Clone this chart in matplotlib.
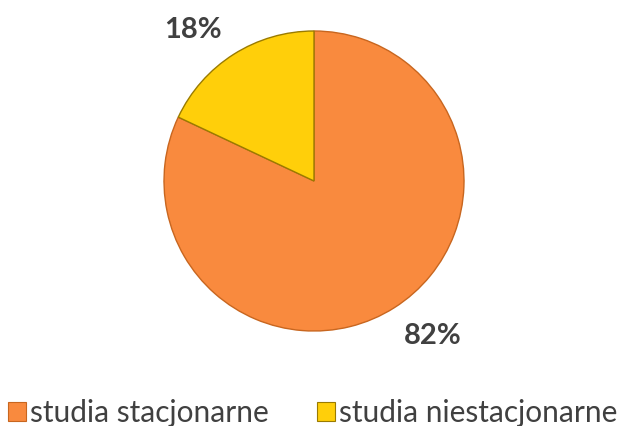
import matplotlib
matplotlib.use("Agg")
import matplotlib.pyplot as plt
from matplotlib.patches import Patch

# dane
kategorie = ['studia stacjonarne', 'studia niestacjonarne']
udzialy = [82, 18]
etykiety = ['82%', '18%']
kolory = ['#F98A3E', '#FFCF0A']
krawedzie = ['#C8661F', '#9A7B00']

plt.rcParams['font.family'] = ['Lato', 'DejaVu Sans']

fig = plt.figure(figsize=(6.32, 4.26), dpi=100)
ax = fig.add_axes([164 / 632, 95 / 426, 300 / 632, 300 / 426])

wedges, _ = ax.pie(udzialy, colors=kolory, startangle=90, counterclock=False,
                   radius=1.0, wedgeprops=dict(linewidth=1.0))
for w, ec in zip(wedges, krawedzie):
    w.set_edgecolor(ec)

# etykiety procentowe poza kołem
pozycje = [(0.79, -1.03), (-0.81, 1.01)]
for txt, (x, y) in zip(etykiety, pozycje):
    ax.text(x, y, txt, ha='center', va='center', fontsize=21,
            fontweight='bold', color='#404040')

ax.set_xlim(-1, 1)
ax.set_ylim(-1, 1)
ax.set_aspect('equal')
ax.axis('off')

uchwyty = [Patch(facecolor=c, edgecolor=e, linewidth=0.8) for c, e in zip(kolory, krawedzie)]
fig.legend(uchwyty, kategorie, loc='lower center', bbox_to_anchor=(0.495, -0.065), ncol=2,
           frameon=False, fontsize=21.5, handlelength=0.6, handleheight=0.6,
           handletextpad=0.15, columnspacing=1.6, labelcolor='#404040')

fig.savefig('out.png', dpi=100)
